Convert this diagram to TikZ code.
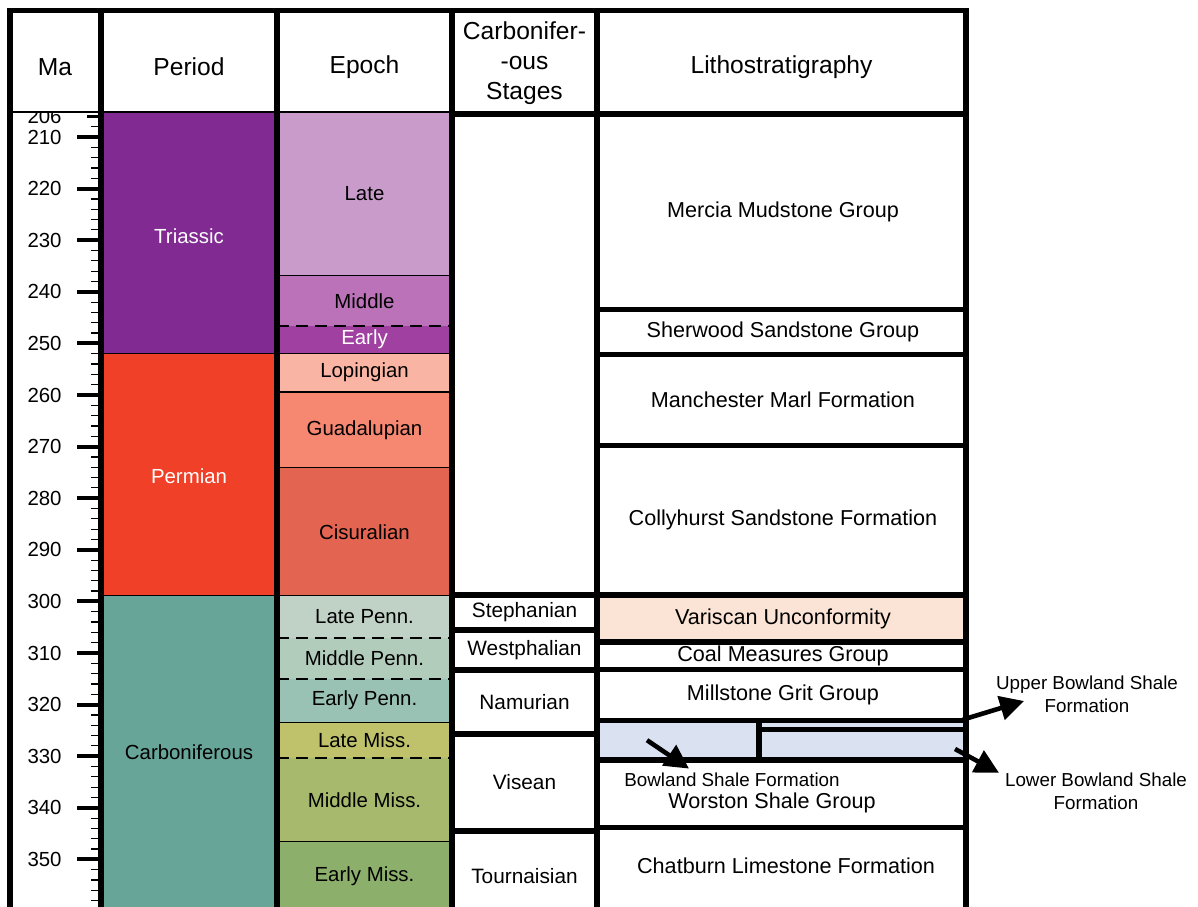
\documentclass[tikz,border=0pt]{standalone}
\usepackage{fontspec}
\setmainfont{Liberation Sans}
\usetikzlibrary{arrows.meta,positioning,calc}
\definecolor{triasviolet}{RGB}{129,43,146}
\definecolor{permred}{RGB}{240,64,40}
\definecolor{carbteal}{RGB}{103,165,153}
\definecolor{lateTri}{RGB}{200,155,203}
\definecolor{midTri}{RGB}{187,114,184}
\definecolor{earlyTri}{RGB}{160,64,160}
\definecolor{loping}{RGB}{249,180,163}
\definecolor{guadal}{RGB}{246,135,112}
\definecolor{cisural}{RGB}{228,100,82}
\definecolor{latePenn}{RGB}{192,210,198}
\definecolor{midPenn}{RGB}{178,204,188}
\definecolor{earlyPenn}{RGB}{153,194,181}
\definecolor{lateMiss}{RGB}{191,194,107}
\definecolor{midMiss}{RGB}{166,185,108}
\definecolor{earlyMiss}{RGB}{140,176,108}
\definecolor{unconfpeach}{RGB}{251,228,214}
\definecolor{bowlandblue}{RGB}{218,226,242}
\tikzset{
  frame/.style={line width=2.6pt},
  colbox/.style={draw=black,line width=2.6pt,fill=white},
  hdr/.style={font=\fontsize{12.3}{15}\selectfont,align=center},
  malbl/.style={font=\fontsize{10.2}{12}\selectfont,anchor=east,inner sep=0pt},
  perlbl/.style={font=\fontsize{10.2}{12}\selectfont},
  eplbl/.style={font=\fontsize{10.2}{12}\selectfont},
  stglbl/.style={font=\fontsize{10.4}{12}\selectfont},
  litlbl/.style={font=\fontsize{10.8}{13}\selectfont},
  sidelbl/.style={font=\fontsize{9.4}{11.5}\selectfont,align=center},
  thinsep/.style={line width=0.6pt},
  dashsep/.style={line width=1pt,dash pattern=on 6pt off 3.5pt},
  ptr/.style={-{Triangle[length=12pt,width=12pt]},line width=2.3pt},
}

\begin{document}
\begin{tikzpicture}[x=0.5pt,y=-2.58pt]
  % x in pixels, y in Ma
  \useasboundingbox (0,183.45) rectangle (1198,359.22);
  \clip (0,183.45) rectangle (1198,359.22);
  \fill[white] (0,183.45) rectangle (1198,359.22);

  % periods
  \fill[triasviolet] (101,205.2) rectangle (277,251.9);
  \fill[permred] (101,251.9) rectangle (277,298.9);
  \fill[carbteal] (101,298.9) rectangle (277,360);
  \draw[thinsep] (101,251.9) -- (277,251.9);
  \draw[thinsep] (101,298.9) -- (277,298.9);
  \node[perlbl,text=white] (tri) at (189,229.2) {Triassic};
  \node[perlbl,text=white] (perm) at (189,275.7) {Permian};
  \node[perlbl] (carb) at (189,329.2) {Carboniferous};

  % epochs
  \foreach \ya/\yb/\col/\txt/\tc [count=\i] in {
      205.2/236.9/lateTri/Late/black,
      236.9/246.6/midTri/Middle/black,
      246.6/251.9/earlyTri/Early/white,
      251.9/259.4/loping/Lopingian/black,
      259.4/274.1/guadal/Guadalupian/black,
      274.1/298.9/cisural/Cisuralian/black,
      298.9/307.0/latePenn/Late Penn./black,
      307.0/315.0/midPenn/Middle Penn./black,
      315.0/323.4/earlyPenn/Early Penn./black,
      323.4/330.3/lateMiss/Late Miss./black,
      330.3/346.6/midMiss/Middle Miss./black,
      346.6/360/earlyMiss/Early Miss./black}{
    \fill[\col] (277,\ya) rectangle (452,\yb);
    \node[eplbl,text=\tc] (ep\i) at (364.5,{(\ya+\yb)/2}) {\txt};
  }
  \foreach \yy in {236.9,251.9,259.4,274.1,298.9,323.4,346.6}
    \draw[thinsep] (277,\yy) -- (452,\yy);
  \foreach \yy in {246.6,307.0,315.0,330.3}
    \draw[dashsep] (277,\yy) -- (452,\yy);

  % Ma axis
  \foreach \m in {208,210,...,358}
    \draw[line width=0.6pt] (91,\m) -- (101,\m);
  \foreach \m in {210,220,...,350}{
    \draw[line width=2pt] (77,\m) -- (101,\m);
    \node[malbl] (ma\m) at (62,\m) {\m};
  }
  \draw[line width=1.6pt] (87,206) -- (101,206);
  \node[malbl] (ma206) at (62,206.1) {206};

  % header
  \fill[white] (10,183.45) rectangle (966,205.2);
  \draw[line width=0.8pt] (10,205.2) -- (452,205.2);

  % stages
  \draw[colbox] (452,205.54) rectangle (597,298.76);
  \foreach \ya/\yb/\txt [count=\i] in {
      298.76/305.54/Stephanian,
      305.54/313.30/Westphalian,
      313.30/325.70/Namurian,
      325.70/344.50/Visean,
      344.50/362/Tournaisian}{
    \draw[colbox] (452,\ya) rectangle (597,\yb);
    \node[stglbl] (stg\i) at (524.5,{(\ya+\yb)/2}) {\txt};
  }

  % lithostratigraphy
  \foreach \ya/\yb/\fc/\txt [count=\i] in {
      205.54/243.43/white/Mercia Mudstone Group,
      243.43/252.15/white/Sherwood Sandstone Group,
      252.15/269.79/white/Manchester Marl Formation,
      269.79/298.76/white/Collyhurst Sandstone Formation,
      298.76/307.87/unconfpeach/Variscan Unconformity,
      307.87/313.20/white/Coal Measures Group,
      313.20/323.08/white/Millstone Grit Group}{
    \draw[colbox,fill=\fc] (597,\ya) rectangle (966,\yb);
    \node[litlbl] (lit\i) at (783,{(\ya+\yb)/2}) {\txt};
  }
  \draw[colbox,fill=bowlandblue] (597,323.08) rectangle (966,330.74);
  \draw[frame] (759,323.08) -- (759,330.74);
  \draw[frame] (759,324.83) -- (966,324.83);
  \draw[colbox] (597,330.74) rectangle (966,343.82);
  \draw[colbox] (597,343.82) rectangle (966,362);
  \node[sidelbl] (bsf) at (732,334.6) {Bowland Shale Formation};
  \node[litlbl] (worston) at (772,339.1) {Worston Shale Group};
  \node[litlbl] (chatburn) at (786,351.3) {Chatburn Limestone Formation};

  % frame
  \draw[frame] (10,362) -- (10,185.5) -- (966,185.5) -- (966,362);
  \foreach \xx in {101,277,452,597}
    \draw[frame] (\xx,185.5) -- (\xx,362);

  % header text
  \node[hdr] (hma) at (55,196.4) {Ma};
  \node[hdr] (hper) at (189,196.4) {Period};
  \node[hdr] (hep) at (364.5,196.4) {Epoch};
  \node[hdr] (hstg) at (524.5,195.66) {Carbonifer-\\-ous\\Stages};
  \node[hdr] (hlit) at (781.5,196.4) {Lithostratigraphy};

  % Bowland labels
  \node[sidelbl] (upbsf) at (1087,318.0) {Upper Bowland Shale\\Formation};
  \node[sidelbl] (lobsf) at (1096,336.7) {Lower Bowland Shale\\Formation};
  \coordinate (upS) at (963,322.9);
  \coordinate (upE) at (1024,319.3);
  \coordinate (loS) at (955,328.6);
  \coordinate (loE) at (999,333.2);
  \coordinate (inS) at (647,326.9);
  \coordinate (inE) at (689,332.4);
  \draw[ptr] (upS) -- (upE);
  \draw[ptr] (loS) -- (loE);
  \draw[ptr] (inS) -- (inE);
\end{tikzpicture}
\end{document}
